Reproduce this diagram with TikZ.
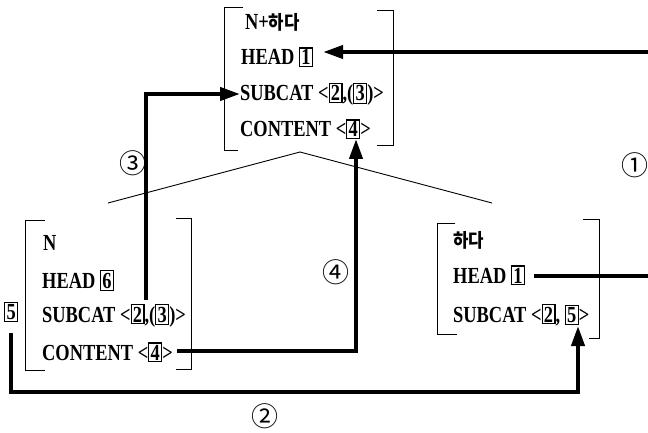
\documentclass[tikz,border=0pt]{standalone}
\usepackage{fontspec}
\setmainfont{Liberation Serif}[FakeStretch=0.8]
\newfontfamily\kr{Noto Sans CJK KR}[FakeStretch=0.88]
\newfontfamily\circfont{Noto Sans CJK KR}
\usetikzlibrary{arrows.meta,calc}
\newcommand\bn[1]{{\fboxsep=1.3pt\fboxrule=1.1pt\fbox{#1}}}
\newcommand\krt[1]{{\kr\bfseries\fontsize{19}{19}\selectfont #1}}
\tikzset{
  row/.style={anchor=base west, inner sep=0pt, font=\bfseries\fontsize{23}{23}\selectfont},
  brk/.style={line width=0.8pt},
  tree/.style={line width=0.9pt},
  conn/.style={line width=4pt},
  arr/.style={conn, -{Triangle[length=20pt,width=13pt]}},
  lab/.style={font=\circfont\fontsize{27}{27}\selectfont, inner sep=0pt}
}
\begin{document}
\begin{tikzpicture}[x=1pt,y=-1pt]
\fill[white] (0,0) rectangle (648,433);
\useasboundingbox (0,0) rectangle (648,433);
% top AVM
\node[row] (tN) at (245,30) {N+\krt{하다}};
\node[row] (tH) at (241,65) {HEAD \bn{1}};
\node[row] (tS) at (240,101) {SUBCAT <\bn{2},(\bn{3})>};
\node[row] (tC) at (240,137) {CONTENT <\bn{4}>};
\draw[brk] (243,7) -- (224,7) -- (224,150) -- (238,150);
\draw[brk] (377,10) -- (393,10) -- (393,145) -- (377,145);
% left AVM
\node[row] (lN) at (43,250) {N};
\node[row] (lH) at (42,288) {HEAD \bn{6}};
\node[row] (lS) at (42,322) {SUBCAT <\bn{2},(\bn{3})>};
\node[row] (lC) at (42,360) {CONTENT <\bn{4}>};
\node[row] (five) at (4,319) {\bn{5}};
\draw[brk] (45,220) -- (25,220) -- (25,370) -- (45,370);
\draw[brk] (176,218) -- (191,218) -- (191,369) -- (176,369);
% right AVM
\node[row] (rN) at (453,247) {\krt{하다}};
\node[row] (rH) at (453,283) {HEAD \bn{1}};
\node[row] (rS) at (453,322) {SUBCAT <\bn{2}, \bn{5}>};
\draw[brk] (455,223) -- (437,223) -- (437,334) -- (457,334);
\draw[brk] (583,219) -- (599,219) -- (599,338) -- (589,338);
% tree
\coordinate (apex) at (300,152);
\coordinate (tl) at (108,203);
\coordinate (tr) at (492,203);
\draw[tree] (tl) -- (apex) -- (tr);
% connector 1
\coordinate (e1) at (648,52);
\coordinate (e2) at (648,276);
\draw[arr] (e1) -- ($(tH.east |- e1)+(10,0)$);
\draw[conn] ($(rH.east |- e2)+(9,0)$) -- (e2);
% connector 3
\coordinate (s3) at (146,300);
\draw[arr] (s3) -- (146,94) -- (tS.west |- 0,94);
% connector 4
\coordinate (s4) at (177,351);
\coordinate (c4) at (356,139);
\draw[arr] (s4) -| (c4);
% connector 2
\coordinate (s2) at (11,333);
\coordinate (t5) at (578,326);
\draw[arr] (s2) |- (578,392) -- (t5);
% labels
\node[lab] (L1) at (635,165) {①};
\node[lab] (L3) at (133,163) {③};
\node[lab] (L4) at (336,272) {④};
\node[lab] (L2) at (265,416) {②};
\end{tikzpicture}
\end{document}
